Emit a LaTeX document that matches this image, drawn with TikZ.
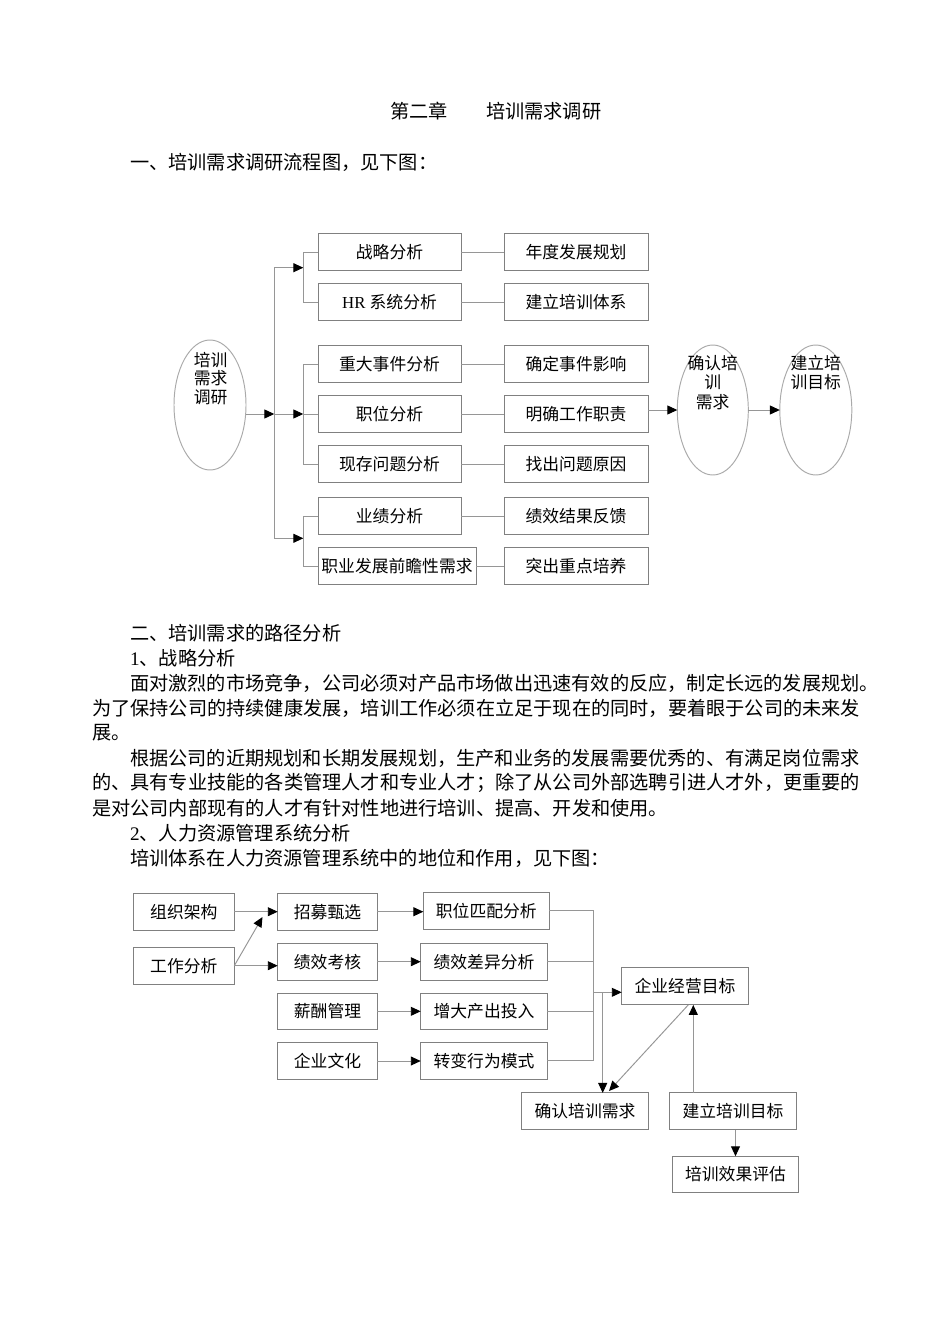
\documentclass[tikz,border=0pt]{standalone}
\usepackage{fontspec}
\setmainfont{Liberation Serif}
\newfontfamily\cjk{Noto Sans CJK SC}
\usetikzlibrary{arrows.meta,shapes.geometric}
\definecolor{boxgray}{RGB}{128,128,128}
\definecolor{linegray}{RGB}{150,150,150}
\definecolor{ovalgray}{RGB}{170,170,170}
\begin{document}
\begin{tikzpicture}[x=0.625pt,y=-0.625pt,
  every node/.style={inner sep=0pt, outer sep=0pt},
  body/.style={anchor=west, font=\cjk\fontsize{12}{14}\selectfont},
  dtext/.style={font=\cjk\fontsize{10.5}{12}\selectfont},
  wd/.style={minimum width=#1*0.625pt},
  box/.style={draw=boxgray, line width=0.6pt, dtext, minimum height=36.6*0.625pt},
  oval/.style={draw=ovalgray, line width=0.6pt, ellipse, minimum height=130*0.625pt},
  ln/.style={draw=linegray, line width=0.6pt},
  arr/.style={ln, -{Triangle[length=6.2pt,width=5.6pt,color=black]}},
]
\fill[white] (0,0) rectangle (950,1344);
\useasboundingbox (0,0) rectangle (950,1344);

% ---------- text ----------
\node[body] (h0) at (390,111) {第二章\hspace{2em}培训需求调研};
\node[body] (h1) at (130,162) {一、培训需求调研流程图，见下图：};
\node[body] (s2) at (130,633) {二、培训需求的路径分析};
\node[body] (s21) at (130,658) {{\rmfamily 1}、战略分析};
\node[body] (p1) at (130,683) {面对激烈的市场竞争，公司必须对产品市场做出迅速有效的反应，制定长远的发展规划。};
\node[body] (p2) at (92,708) {为了保持公司的持续健康发展，培训工作必须在立足于现在的同时，要着眼于公司的未来发};
\node[body] (p3) at (92,733) {展。};
\node[body] (p4) at (130,758) {根据公司的近期规划和长期发展规划，生产和业务的发展需要优秀的、有满足岗位需求};
\node[body] (p5) at (92,783) {的、具有专业技能的各类管理人才和专业人才；除了从公司外部选聘引进人才外，更重要的};
\node[body] (p6) at (92,808) {是对公司内部现有的人才有针对性地进行培训、提高、开发和使用。};
\node[body] (s22) at (130,833) {{\rmfamily 2}、人力资源管理系统分析};
\node[body] (p7) at (130,858) {培训体系在人力资源管理系统中的地位和作用，见下图：};

% ---------- top diagram ----------
\node[box,wd=143] (b1) at (389.5,252) {战略分析};
\node[box,wd=143] (b2) at (389.5,302) {{\rmfamily HR }系统分析};
\node[box,wd=143] (b3) at (389.5,364) {重大事件分析};
\node[box,wd=143] (b4) at (389.5,414) {职位分析};
\node[box,wd=143] (b5) at (389.5,464) {现存问题分析};
\node[box,wd=143] (b6) at (389.5,516) {业绩分析};
\node[box,wd=158] (b7) at (397,566) {职业发展前瞻性需求};

\node[box,wd=144] (r1) at (576,252) {年度发展规划};
\node[box,wd=144] (r2) at (576,302) {建立培训体系};
\node[box,wd=144] (r3) at (576,364) {确定事件影响};
\node[box,wd=144] (r4) at (576,414) {明确工作职责};
\node[box,wd=144] (r5) at (576,464) {找出问题原因};
\node[box,wd=144] (r6) at (576,516) {绩效结果反馈};
\node[box,wd=144] (r7) at (576,566) {突出重点培养};

\node[oval, minimum width=72*0.625pt] (e1) at (210,405) {};
\node[dtext] (e1a) at (210.7,360) {培训};
\node[dtext] (e1b) at (210.7,378.5) {需求};
\node[dtext] (e1c) at (210.7,397) {调研};

\node[oval, minimum width=71*0.625pt] (e2) at (712.8,410) {};
\node[dtext] (e2a) at (712.7,362.7) {确认培};
\node[dtext] (e2b) at (712.7,382.3) {训};
\node[dtext] (e2c) at (712.7,401.7) {需求};

\node[oval, minimum width=72*0.625pt] (e3) at (815.8,410) {};
\node[dtext] (e3a) at (815.8,362.7) {建立培};
\node[dtext] (e3b) at (815.8,381.7) {训目标};

\coordinate (t1) at (274.3,267.7);
\coordinate (t2) at (274.3,414);
\coordinate (t3) at (274.3,538.3);
\coordinate (k) at (303.3,0);
\draw[ln] (t1) -- (t3);
\draw[arr] (e1.east |- b4) -- (t2);
\draw[arr] (t1) -- (t1 -| k);
\draw[arr] (t2) -- (t2 -| k);
\draw[arr] (t3) -- (t3 -| k);
\draw[ln] (b1.west) -- (b1.west -| k) -- (b2.west -| k) -- (b2.west);
\draw[ln] (b3.west) -- (b3.west -| k) -- (b5.west -| k) -- (b5.west);
\draw[ln] (b4.west) -- (b4.west -| k);
\draw[ln] (b6.west) -- (b6.west -| k) -- (b7.west -| k) -- (b7.west);
\foreach \i in {1,...,7} { \draw[ln] (b\i.east) -- (r\i.west); }
\draw[arr] (r4.east |- e2.west) -- (e2.west);
\draw[arr] (e2.east) -- (e3.west);

% ---------- bottom diagram ----------
\node[box,wd=101] (g1) at (183.8,911.7) {组织架构};
\node[box,wd=101] (g2) at (183.8,965.7) {工作分析};
\node[box,wd=99.6] (m1) at (327.5,911.7) {招募甄选};
\node[box,wd=99.6] (m2) at (327.5,961.7) {绩效考核};
\node[box,wd=99.6] (m3) at (327.5,1011.3) {薪酬管理};
\node[box,wd=99.6] (m4) at (327.5,1061) {企业文化};
\node[box,wd=126] (n1) at (486.3,910.7) {职位匹配分析};
\node[box,wd=126.6] (n2) at (484,961.7) {绩效差异分析};
\node[box,wd=126.6] (n3) at (484,1011.3) {增大产出投入};
\node[box,wd=126.6] (n4) at (484,1060.7) {转变行为模式};
\node[box,wd=126.6,minimum height=37.3*0.625pt] (q) at (685,986.3) {企业经营目标};
\node[box,wd=126.6] (c1) at (585,1111.2) {确认培训需求};
\node[box,wd=127.4] (c2) at (733,1111.2) {建立培训目标};
\node[box,wd=125.6] (c3) at (735.5,1174.5) {培训效果评估};

\draw[arr] (g1.east) -- (g1.east -| m1.west);
\coordinate (d1) at (262.5,917);
\draw[arr] (g2.east) -- (d1);
\draw[arr] (g2.east) -- (g2.east -| m2.west);
\draw[arr] (m1.east) -- (m1.east -| n1.west);
\draw[arr] (m2.east) -- (m2.east -| n2.west);
\draw[arr] (m3.east) -- (m3.east -| n3.west);
\draw[arr] (m4.east) -- (m4.east -| n4.west);
\coordinate (v) at (593.3,0);
\draw[ln] (n1.east) -- (n1.east -| v) -- (n4.east -| v) -- (n4.east);
\draw[ln] (n2.east) -- (n2.east -| v);
\draw[ln] (n3.east) -- (n3.east -| v);
\coordinate (j1) at (593.3,992.3);
\draw[arr] (j1) -- (j1 -| q.west);
\coordinate (j2) at (602.7,992.3);
\draw[arr] (j2) -- (j2 |- c1.north);
\coordinate (d2) at (609,1091);
\draw[arr] ([xshift=2pt]q.south) -- (d2);
\coordinate (u) at (693.3,0);
\draw[arr] (c2.north -| u) -- (q.south -| u);
\draw[arr] (c2.south -| c3.north) -- (c3.north);
\end{tikzpicture}
\end{document}
